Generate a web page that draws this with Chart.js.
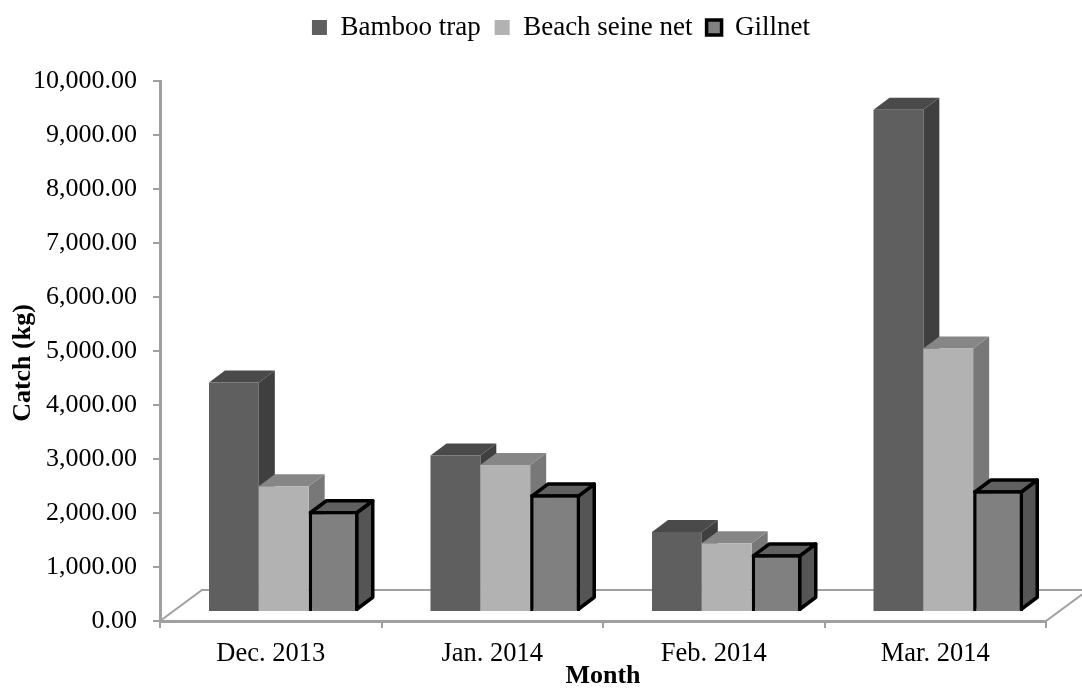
<!DOCTYPE html>
<html>
<head>
<meta charset="utf-8">
<title>Catch by month</title>
<script src="https://cdn.jsdelivr.net/npm/chart.js@4"></script>
<style>
    html, body { margin: 0; padding: 0; background: #fff; }
    canvas { display: block; }
</style>
</head>
<body>
<canvas id="catchChart" width="1082" height="689"></canvas>
<script>
const months = ["Dec. 2013", "Jan. 2014", "Feb. 2014", "Mar. 2014"];
const bambooTrap = [4250, 2900, 1480, 9300];
const beachSeine = [2330, 2720, 1275, 4880];
const gillnet = [1870, 2180, 1070, 2255];

const FONT = "'Liberation Serif', 'Times New Roman', serif";
const AXIS_GRAY = "#a0a0a0";

// the fake 3D look: bars sit a bit in from the axes, with a side and a top face
const BAR_SHIFT_X = 13;
const BAR_SHIFT_Y = -9;
const DEPTH_X = 16;
const DEPTH_Y = -12;
const FLOOR_X = 42;
const FLOOR_Y = -31;

const faces = [
    { top: "#4a4a4a", side: "#3f3f3f" },
    { top: "#868686", side: "#787878" },
    { top: "#606060", side: "#555555" }
];

function poly(ctx, pts, stroke) {
    ctx.beginPath();
    ctx.moveTo(pts[0][0], pts[0][1]);
    pts.slice(1).forEach(p => ctx.lineTo(p[0], p[1]));
    ctx.closePath();
    ctx.fill();
    if (stroke) ctx.stroke();
}

const bars3d = {
    id: "bars3d",
    afterLayout(chart) {
        // legend sits higher and further right than the default spot
        chart.legend.left = 76;
        chart.legend.top = 0;
    },
    beforeDatasetsDraw(chart) {
        const ctx = chart.ctx;
        const area = chart.chartArea;

        // floor outline
        ctx.save();
        ctx.strokeStyle = AXIS_GRAY;
        ctx.lineWidth = 2;
        ctx.beginPath();
        ctx.moveTo(area.left, area.bottom);
        ctx.lineTo(area.left + FLOOR_X, area.bottom + FLOOR_Y);
        ctx.lineTo(area.right + FLOOR_X, area.bottom + FLOOR_Y);
        ctx.lineTo(area.right, area.bottom);
        ctx.stroke();
        ctx.restore();

        // left to right so nearer faces cover the ones behind
        ctx.save();
        ctx.translate(BAR_SHIFT_X, BAR_SHIFT_Y);
        months.forEach((m, i) => {
            chart.data.datasets.forEach((ds, d) => {
                const bar = chart.getDatasetMeta(d).data[i];
                const inset = ds.borderWidth ? ds.borderWidth / 2 : 0;
                const l = bar.x - bar.width / 2 + inset;
                const r = bar.x + bar.width / 2 - inset;
                const t = bar.y + inset;
                const b = bar.base - inset;

                ctx.lineJoin = "round";
                ctx.lineWidth = ds.borderWidth;
                ctx.strokeStyle = ds.borderColor;

                ctx.fillStyle = faces[d].side;
                poly(ctx, [[r, t], [r + DEPTH_X, t + DEPTH_Y], [r + DEPTH_X, b + DEPTH_Y], [r, b]], ds.borderWidth > 0);
                ctx.fillStyle = faces[d].top;
                poly(ctx, [[l, t], [l + DEPTH_X, t + DEPTH_Y], [r + DEPTH_X, t + DEPTH_Y], [r, t]], ds.borderWidth > 0);

                bar.draw(ctx);
            });
        });
        ctx.restore();
        return false;
    },
    afterDraw(chart) {
        // axis title sits lower than the plot centre, the scale title can't do that
        const ctx = chart.ctx;
        ctx.save();
        ctx.translate(23, 363);
        ctx.rotate(-Math.PI / 2);
        ctx.font = "bold 26px " + FONT;
        ctx.fillStyle = "#000";
        ctx.textAlign = "center";
        ctx.textBaseline = "middle";
        ctx.fillText("Catch (kg)", 0, 0);
        ctx.restore();
    }
};

new Chart(document.getElementById("catchChart"), {
    type: "bar",
    data: {
        labels: months,
        datasets: [
            { label: "Bamboo trap", data: bambooTrap, backgroundColor: "#5f5f5f", borderWidth: 0 },
            { label: "Beach seine net", data: beachSeine, backgroundColor: "#b2b2b2", borderWidth: 0 },
            { label: "Gillnet", data: gillnet, backgroundColor: "#808080", borderColor: "#000000", borderWidth: 3.5 }
        ]
    },
    plugins: [bars3d],
    options: {
        responsive: false,
        animation: false,
        layout: { padding: { top: 30, right: 36, left: 0, bottom: 0 } },
        datasets: { bar: { barPercentage: 1, categoryPercentage: 0.675 } },
        plugins: {
            tooltip: { enabled: false },
            legend: {
                position: "top",
                labels: {
                    color: "#000",
                    font: { family: FONT, size: 27 },
                    boxWidth: 15,
                    boxHeight: 15,
                    padding: 14
                }
            }
        },
        scales: {
            x: {
                afterFit: s => { s.height = 68; },
                border: { color: AXIS_GRAY, width: 3 },
                grid: { display: true, drawOnChartArea: false, offset: true, color: AXIS_GRAY, lineWidth: 2, tickLength: 7 },
                ticks: { color: "#000", font: { family: FONT, size: 26.5 }, padding: 10, maxRotation: 0 },
                title: { display: true, text: "Month", color: "#000", font: { family: FONT, size: 26, weight: "bold", lineHeight: 1 }, padding: 0 }
            },
            y: {
                min: 0,
                max: 10000,
                afterFit: s => { s.width = 160; },
                border: { color: AXIS_GRAY, width: 3 },
                grid: { display: true, drawOnChartArea: false, color: AXIS_GRAY, lineWidth: 2, tickLength: 7 },
                ticks: {
                    stepSize: 1000,
                    color: "#000",
                    font: { family: FONT, size: 26 },
                    padding: 16,
                    callback: v => v.toLocaleString("en-US", { minimumFractionDigits: 2, maximumFractionDigits: 2 })
                }
            }
        }
    }
});
</script>
</body>
</html>
